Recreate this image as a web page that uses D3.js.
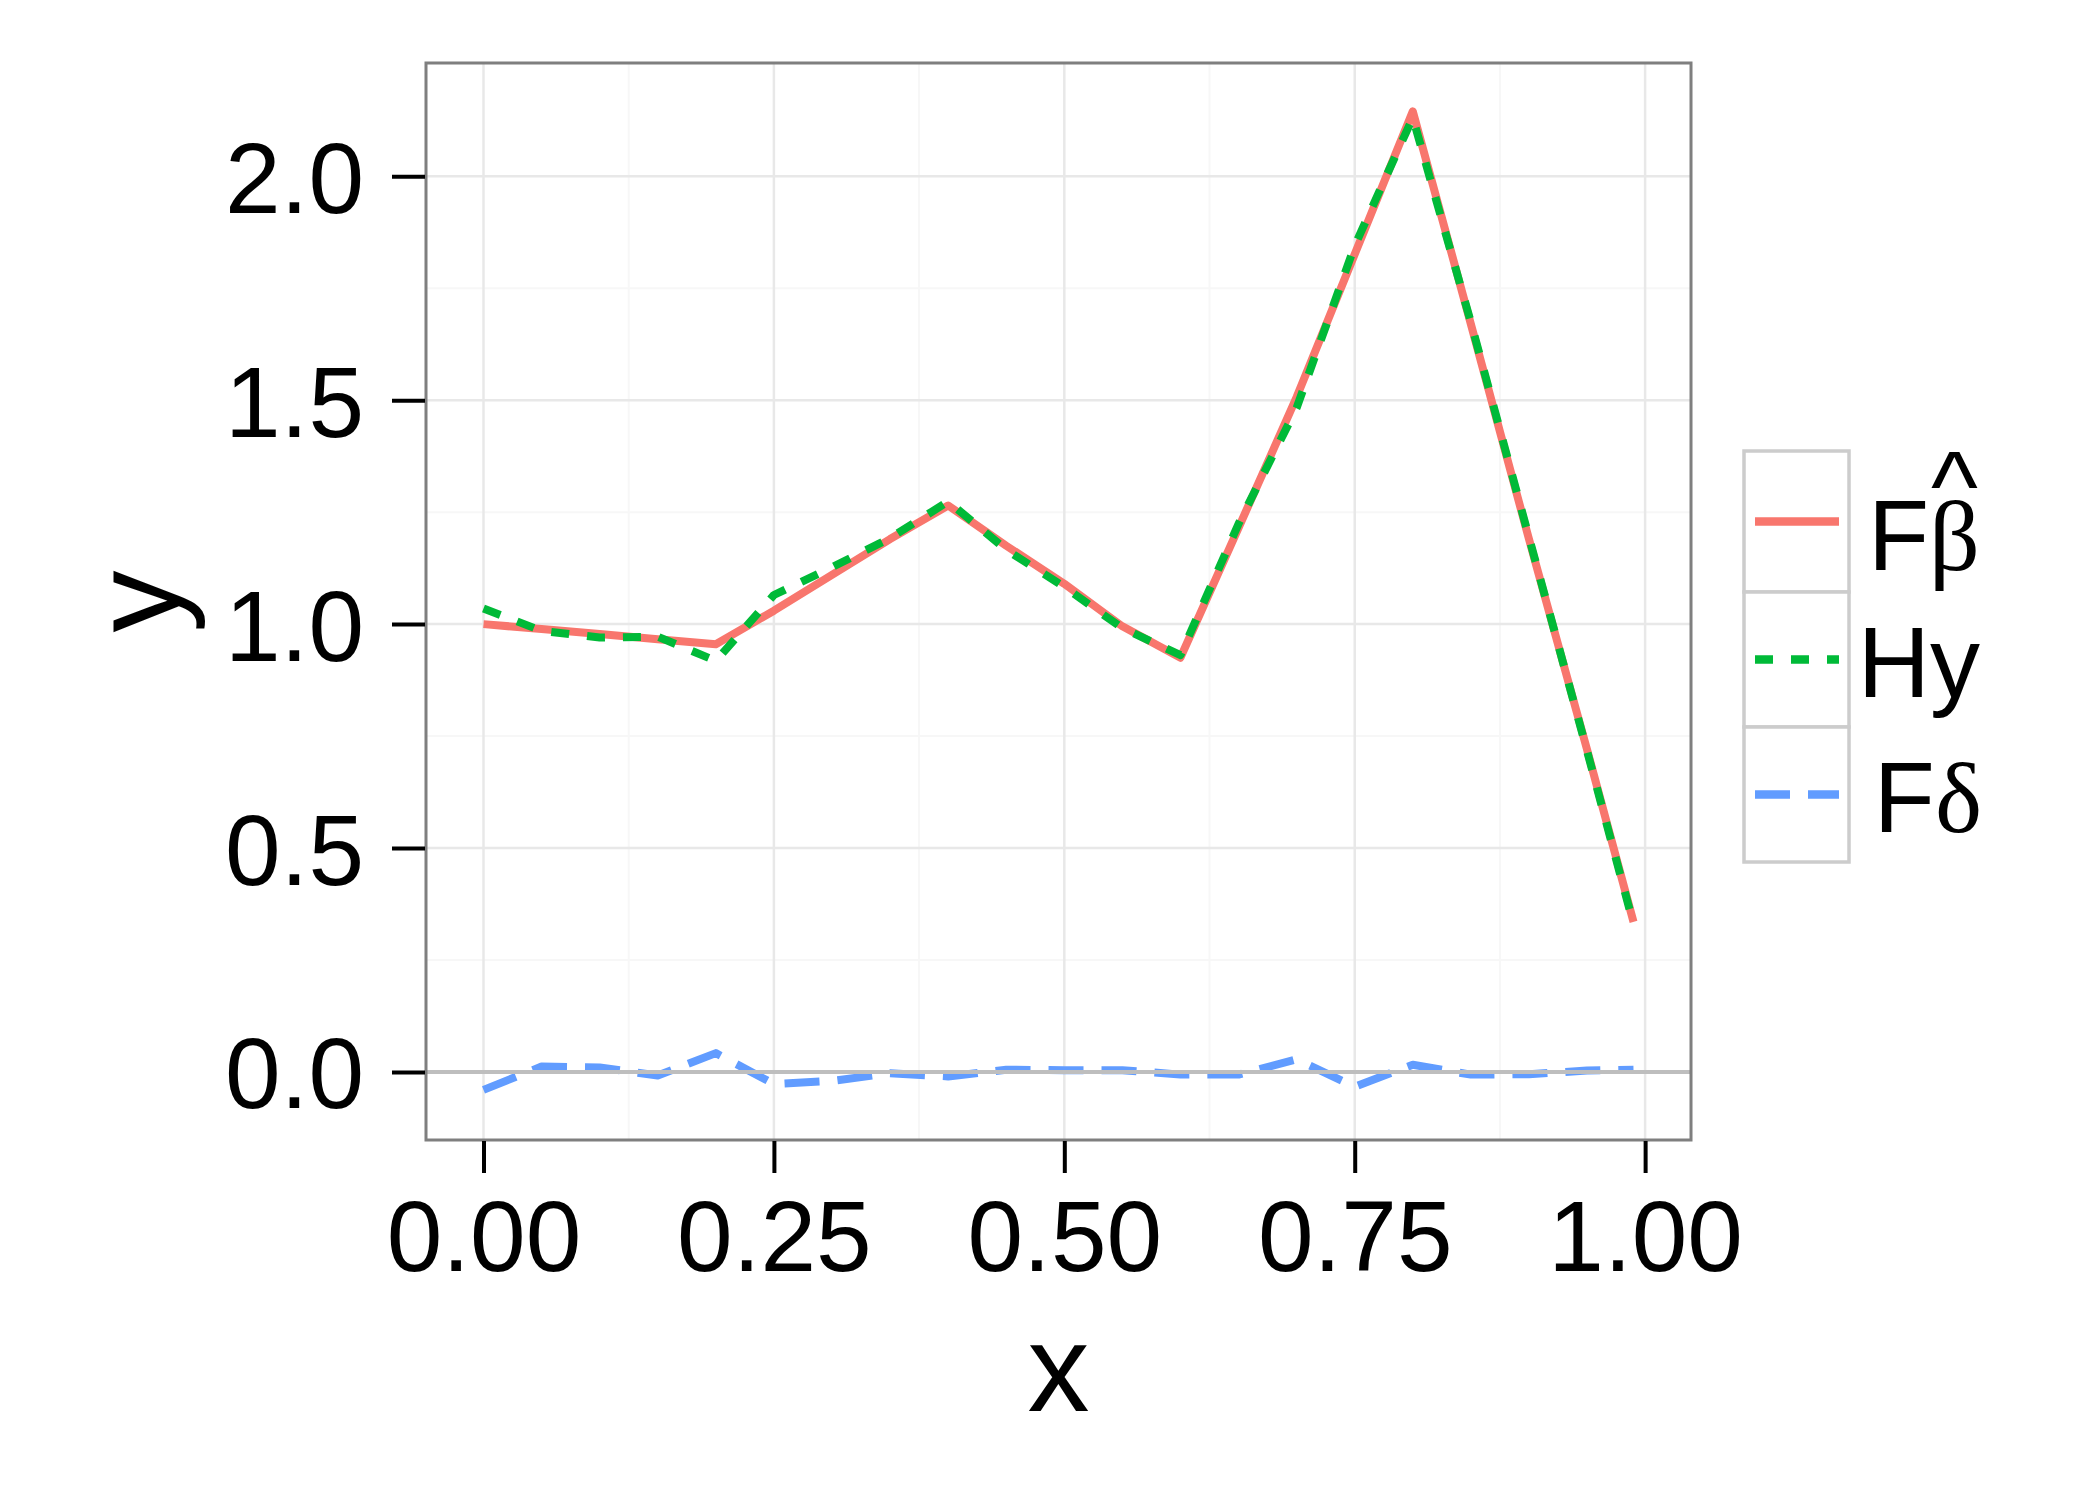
<!DOCTYPE html>
<html lang="en">
<head>
    <meta charset="UTF-8">
    <script src="https://cdn.jsdelivr.net/npm/d3@7"></script>
    <title>F beta / Hy / F delta</title>
    <style>
        body { margin: 0; background: #fff; }
        text { font-family: "Liberation Sans", Arial, Helvetica, sans-serif; fill: #000; }
    </style>
</head>
<body>
    <svg width="2096" height="1499"></svg>
    <script>
        // data
        const xs     = [0, 0.05, 0.1, 0.15, 0.2, 0.25, 0.3, 0.35, 0.4, 0.45, 0.5, 0.55, 0.6, 0.65, 0.7, 0.75, 0.8, 0.85, 0.9, 0.95, 0.99];
        const fBeta  = [1.0, 0.989, 0.978, 0.966, 0.955, 1.03, 1.11, 1.19, 1.265, 1.175, 1.09, 0.995, 0.925, 1.215, 1.507, 1.826, 2.145, 1.67, 1.19, 0.72, 0.335];
        const hy     = [1.035, 0.985, 0.970, 0.972, 0.918, 1.065, 1.127, 1.192, 1.274, 1.166, 1.083, 0.991, 0.931, 1.224, 1.483, 1.845, 2.131, 1.674, 1.194, 0.717, 0.33];
        const fDelta = [-0.04, 0.012, 0.01, -0.008, 0.042, -0.027, -0.02, -0.003, -0.01, 0.005, 0.004, 0.004, -0.006, -0.006, 0.028, -0.033, 0.016, -0.006, -0.005, 0.003, 0.005];

        const xTicks = [0, 0.25, 0.5, 0.75, 1.0];
        const xMinor = [0.125, 0.375, 0.625, 0.875];
        const yTicks = [0, 0.5, 1.0, 1.5, 2.0];
        const yMinor = [0.25, 0.75, 1.25, 1.75];

        const series = [
            { name: 'fBeta',  values: fBeta,  color: '#F8766D', dash: null },
            { name: 'hy',     values: hy,     color: '#00BA38', dash: '18,18' },
            { name: 'fDelta', values: fDelta, color: '#619CFF', dash: '35,18' }
        ];

        // panel box
        const panel = { left: 426, right: 1691, top: 63, bottom: 1140 };

        const svg = d3.select('svg');

        const xScale = d3.scaleLinear()
            .domain([-0.0495, 1.0395])
            .range([panel.left, panel.right]);

        const yScale = d3.scaleLinear()
            .domain([-0.152, 2.253])
            .range([panel.bottom, panel.top]);

        // panel background
        svg.append('rect')
            .attr('x', panel.left).attr('y', panel.top)
            .attr('width', panel.right - panel.left)
            .attr('height', panel.bottom - panel.top)
            .attr('fill', '#fff');

        // grid lines
        const grid = svg.append('g');
        grid.selectAll('.xminor').data(xMinor).enter().append('line')
            .attr('x1', d => xScale(d)).attr('x2', d => xScale(d))
            .attr('y1', panel.top).attr('y2', panel.bottom)
            .attr('stroke', '#f7f7f7').attr('stroke-width', 2);
        grid.selectAll('.yminor').data(yMinor).enter().append('line')
            .attr('x1', panel.left).attr('x2', panel.right)
            .attr('y1', d => yScale(d)).attr('y2', d => yScale(d))
            .attr('stroke', '#f7f7f7').attr('stroke-width', 2);
        grid.selectAll('.xmajor').data(xTicks).enter().append('line')
            .attr('x1', d => xScale(d)).attr('x2', d => xScale(d))
            .attr('y1', panel.top).attr('y2', panel.bottom)
            .attr('stroke', '#e8e8e8').attr('stroke-width', 2.5);
        grid.selectAll('.ymajor').data(yTicks).enter().append('line')
            .attr('x1', panel.left).attr('x2', panel.right)
            .attr('y1', d => yScale(d)).attr('y2', d => yScale(d))
            .attr('stroke', '#e8e8e8').attr('stroke-width', 2.5);

        // lines
        const line = d3.line()
            .x((d, i) => xScale(xs[i]))
            .y(d => yScale(d));

        svg.append('g')
            .selectAll('path')
            .data(series)
            .enter()
            .append('path')
            .attr('d', d => line(d.values))
            .attr('fill', 'none')
            .attr('stroke', d => d.color)
            .attr('stroke-width', 8)
            .attr('stroke-linejoin', 'round')
            .attr('stroke-dasharray', d => d.dash);

        // zero line
        svg.append('line')
            .attr('x1', panel.left).attr('x2', panel.right)
            .attr('y1', yScale(0)).attr('y2', yScale(0))
            .attr('stroke', '#bebebe').attr('stroke-width', 4);

        // panel border
        svg.append('rect')
            .attr('x', panel.left).attr('y', panel.top)
            .attr('width', panel.right - panel.left)
            .attr('height', panel.bottom - panel.top)
            .attr('fill', 'none')
            .attr('stroke', '#7f7f7f').attr('stroke-width', 3);

        // axes
        const xAxis = d3.axisBottom(xScale)
            .tickValues(xTicks)
            .tickSize(32)
            .tickPadding(27)
            .tickFormat(d3.format('.2f'));
        const yAxis = d3.axisLeft(yScale)
            .tickValues(yTicks)
            .tickSize(33)
            .tickPadding(28)
            .tickFormat(d3.format('.1f'));

        const gx = svg.append('g')
            .attr('transform', `translate(0, ${panel.bottom + 1})`)
            .call(xAxis);
        const gy = svg.append('g')
            .attr('transform', `translate(${panel.left - 1}, 0)`)
            .call(yAxis);

        [gx, gy].forEach(g => {
            g.select('.domain').remove();
            g.selectAll('.tick line').attr('stroke', '#000').attr('stroke-width', 4);
            g.selectAll('.tick text')
                .attr('font-size', 100)
                .attr('font-family', '"Liberation Sans", Arial, sans-serif')
                .attr('fill', '#000');
        });
        gy.selectAll('.tick text').attr('dy', '0.36em');

        // axis titles
        svg.append('text')
            .attr('x', (panel.left + panel.right) / 2)
            .attr('y', 1411)
            .attr('text-anchor', 'middle')
            .attr('font-size', 124)
            .text('x');
        svg.append('text')
            .attr('transform', `translate(179, ${(panel.top + panel.bottom) / 2}) rotate(-90)`)
            .attr('text-anchor', 'middle')
            .attr('font-size', 124)
            .text('y');

        // legend
        const keyX = 1744, keyW = 105;
        const keyH = [141, 135, 135];
        const keyTop = [451, 592, 727];
        const labelRight = 1980;

        const legend = svg.append('g');
        series.forEach((s, i) => {
            const cy = keyTop[i] + keyH[i] / 2;
            legend.append('rect')
                .attr('x', keyX).attr('y', keyTop[i])
                .attr('width', keyW).attr('height', keyH[i])
                .attr('fill', '#fff')
                .attr('stroke', '#cccccc').attr('stroke-width', 3.5);
            legend.append('line')
                .attr('x1', keyX + 11).attr('x2', keyX + 95)
                .attr('y1', cy).attr('y2', cy)
                .attr('stroke', s.color)
                .attr('stroke-width', 8.5)
                .attr('stroke-dasharray', s.dash);
        });

        // label 1: F beta-hat (hat kept in the same text element)
        const lab1 = legend.append('text')
            .attr('x', labelRight).attr('y', 570)
            .attr('text-anchor', 'end')
            .attr('font-size', 100);
        lab1.append('tspan').text('F');
        lab1.append('tspan')
            .attr('font-family', '"Liberation Serif", "Times New Roman", serif')
            .text('β');
        const betaBox = lab1.node().getExtentOfChar(1);
        lab1.append('tspan')
            .attr('x', betaBox.x + betaBox.width / 2)
            .attr('y', 521)
            .attr('text-anchor', 'middle')
            .text('^');

        // label 2: Hy
        legend.append('text')
            .attr('x', labelRight).attr('y', 697)
            .attr('text-anchor', 'end')
            .attr('font-size', 100)
            .text('Hy');

        // label 3: F delta
        const lab3 = legend.append('text')
            .attr('x', labelRight + 2).attr('y', 832)
            .attr('text-anchor', 'end')
            .attr('font-size', 100);
        lab3.append('tspan').text('F');
        lab3.append('tspan')
            .attr('font-family', '"Liberation Serif", "Times New Roman", serif')
            .text('δ');
    </script>
</body>
</html>
